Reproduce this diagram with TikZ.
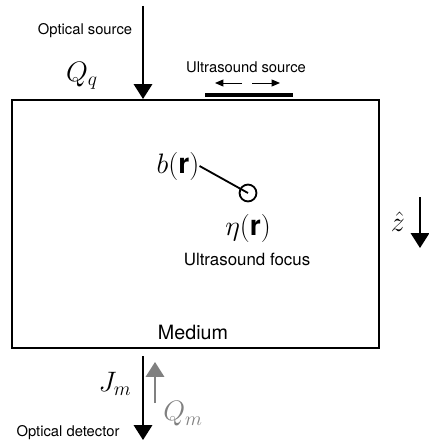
\documentclass[tikz,border=0pt]{standalone}
\usepackage{fix-cm}
\usepackage{fontspec}
\setmainfont{TeX Gyre Heros}
\usetikzlibrary{arrows.meta}

\tikzset{
  lbl/.style={font=\fontsize{10.5}{12}\selectfont, inner sep=0pt},
  mth/.style={font=\fontsize{20}{22}\selectfont, inner sep=0pt},
  bigarrow/.style={line width=1.3pt, -{Triangle[length=10.5pt,width=13pt]}},
  smallarrow/.style={line width=0.7pt, -{Triangle[length=6pt,width=5pt]}}
}

\begin{document}
\begin{tikzpicture}[x=0.025cm,y=-0.025cm]
\useasboundingbox (0,0) rectangle (428,440);
\draw[line width=1.4pt] (12,100) rectangle (379,348);
\coordinate (srctop) at (143,6);
\coordinate (srcbot) at (143,99);
\coordinate (usl1) at (242,83);
\coordinate (usl2) at (215,83);
\coordinate (usr1) at (252,83);
\coordinate (usr2) at (280,83);
\coordinate (bar1) at (205,95);
\coordinate (bar2) at (293,95);
\coordinate (ztop) at (420,197);
\coordinate (zbot) at (420,248);
\coordinate (dettop) at (143,356);
\coordinate (detbot) at (143,440);
\coordinate (qmbot) at (155,403);
\coordinate (qmtop) at (155,362);
\draw[bigarrow] (srctop) -- (srcbot);
\draw[smallarrow] (usl1) -- (usl2);
\draw[smallarrow] (usr1) -- (usr2);
\draw[line width=2.8pt] (bar1) -- (bar2);
\draw[bigarrow] (ztop) -- (zbot);
\draw[bigarrow] (dettop) -- (detbot);
\draw[bigarrow, black!50] (qmbot) -- (qmtop);
\path node[lbl] (srclbl) at (85,31) {Optical source};
\path node[mth] (qq) at (82,76) {$Q_q$};
\path node[lbl] (uslbl) at (246,67) {Ultrasound source};
\path node[mth] (bnode) at (178,166) {$b(\mathbf{r})$};
\path node[draw, circle, line width=1.3pt, minimum size=12pt, inner sep=0pt] (focus) at (248,193) {};
\draw[line width=1.3pt] (bnode.east) -- (focus.center);
\path node[mth] (eta) at (248,228) {$\eta(\mathbf{r})$};
\path node[font=\fontsize{12}{14}\selectfont, inner sep=0pt] (foclbl) at (247,259) {Ultrasound focus};
\path node[mth] (zhat) at (398,222) {$\hat{z}$};
\path node[font=\fontsize{14}{16}\selectfont, inner sep=0pt] (medlbl) at (193,332) {Medium};
\path node[mth] (jm) at (115,384) {$J_m$};
\path node[mth, black!50] (qm) at (183,414) {$Q_m$};
\path node[lbl] (detlbl) at (68,433) {Optical detector};
\end{tikzpicture}
\end{document}
